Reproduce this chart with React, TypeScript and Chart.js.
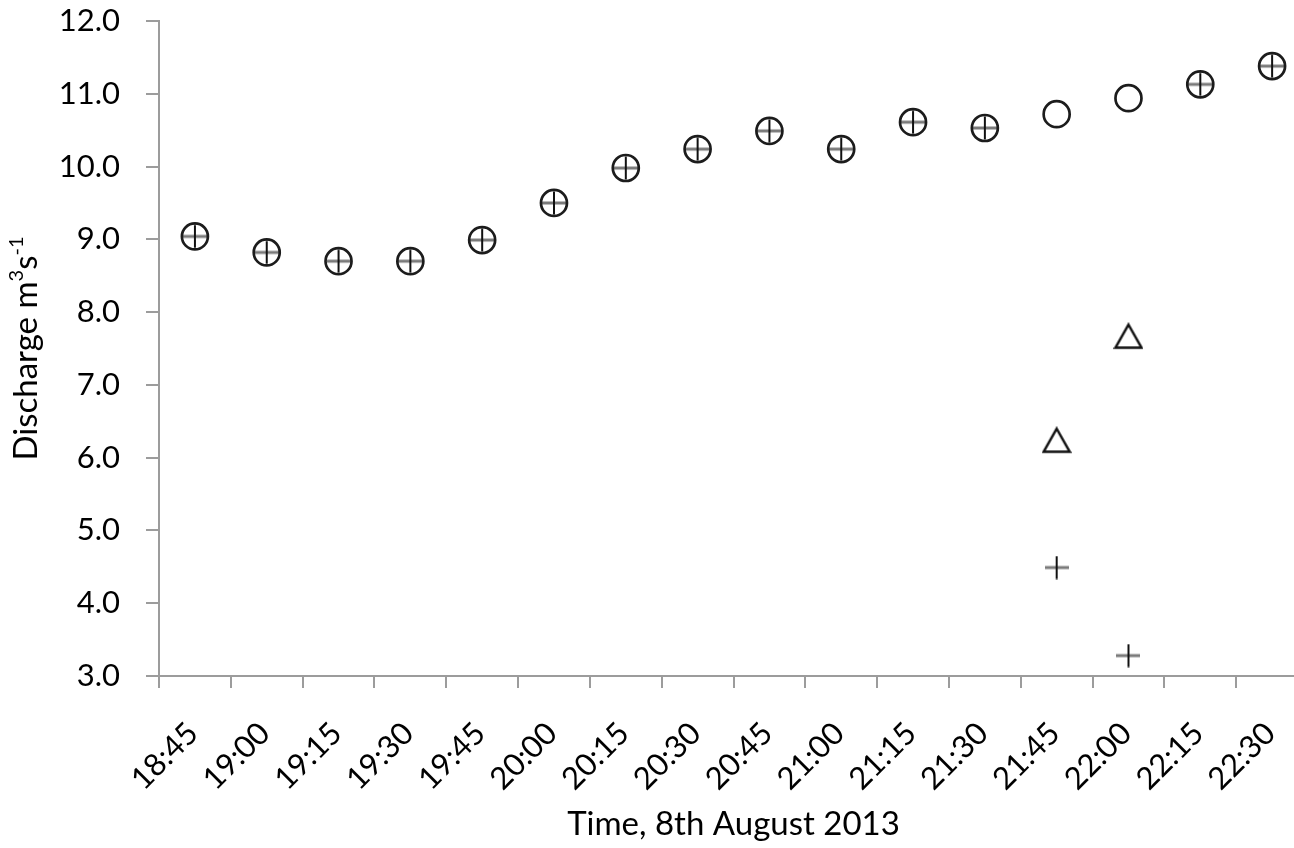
import React, { useEffect, useRef } from 'react';
import { Chart, registerables } from 'chart.js';

Chart.register(...registerables);

// Sampling times (x categories)
const timeLabels = [
  '18:45', '19:00', '19:15', '19:30', '19:45', '20:00', '20:15', '20:30',
  '20:45', '21:00', '21:15', '21:30', '21:45', '22:00', '22:15', '22:30',
];

// Discharge, method 1 (open circles)
const circleValues = [
  9.04, 8.82, 8.7, 8.7, 8.99, 9.5, 9.98, 10.24,
  10.49, 10.24, 10.61, 10.53, 10.72, 10.94, 11.13, 11.38,
];

// Discharge, method 2 (crosses)
const crossValues = [
  9.04, 8.82, 8.7, 8.7, 8.99, 9.5, 9.98, 10.24,
  10.49, 10.24, 10.61, 10.53, 4.49, 3.28, 11.13, 11.38,
];

// Discharge, method 3 (triangles)
const triangleValues: (number | null)[] = [
  null, null, null, null, null, null, null, null,
  null, null, null, null, 6.24, 7.67, null, null,
];

// Y axis range and step
const yTickValues = [3, 4, 5, 6, 7, 8, 9, 10, 11, 12];

const FONT_FAMILY = 'Lato, "Open Sans", sans-serif';
const AXIS_GREY = '#9c9c9c';
const TICK_SIZE = 31;
const TITLE_SIZE = 33;

function makeCrossMarker(): HTMLCanvasElement {
  const c = document.createElement('canvas');
  c.width = 24;
  c.height = 24;
  const ctx = c.getContext('2d')!;
  ctx.fillStyle = '#7a7a7a';
  ctx.fillRect(0, 10.5, 24, 3);
  ctx.fillStyle = '#111';
  ctx.fillRect(11, 0.5, 2, 23);
  return c;
}

function makeTriangleMarker(): HTMLCanvasElement {
  const c = document.createElement('canvas');
  c.width = 30;
  c.height = 28;
  const ctx = c.getContext('2d')!;
  ctx.strokeStyle = '#111';
  ctx.lineWidth = 2.5;
  ctx.lineJoin = 'miter';
  ctx.beginPath();
  ctx.moveTo(15, 2.5);
  ctx.lineTo(28, 25.5);
  ctx.lineTo(2, 25.5);
  ctx.closePath();
  ctx.stroke();
  return c;
}

// Rotated y-axis title with superscript units, centred on the plot height
const yTitlePlugin = {
  id: 'yTitleWithUnits',
  afterDraw(chart: Chart) {
    const ctx = chart.ctx;
    const main = `${TITLE_SIZE}px ${FONT_FAMILY}`;
    const sup = `20px ${FONT_FAMILY}`;
    const parts: [string, boolean][] = [['Discharge m', false], ['3', true], ['s', false], ['-1', true]];
    ctx.save();
    let total = 0;
    for (const [txt, isSup] of parts) {
      ctx.font = isSup ? sup : main;
      total += ctx.measureText(txt).width;
    }
    const { top, bottom } = chart.chartArea;
    const centre = (top + bottom) / 2;
    ctx.translate(37, centre + total / 2);
    ctx.rotate(-Math.PI / 2);
    ctx.fillStyle = '#000';
    ctx.textBaseline = 'alphabetic';
    ctx.textAlign = 'left';
    let x = 0;
    for (const [txt, isSup] of parts) {
      ctx.font = isSup ? sup : main;
      ctx.fillText(txt, x, isSup ? -14 : 0);
      x += ctx.measureText(txt).width;
    }
    ctx.restore();
  },
};

export default function App() {
  const canvasRef = useRef<HTMLCanvasElement | null>(null);

  useEffect(() => {
    const canvas = canvasRef.current;
    if (!canvas) return;
    const crossMarker = makeCrossMarker();
    const triangleMarker = makeTriangleMarker();
    const tickFont = { family: FONT_FAMILY, size: TICK_SIZE };
    const titleFont = { family: FONT_FAMILY, size: TITLE_SIZE };

    const chart = new Chart(canvas, {
      type: 'line',
      data: {
        labels: timeLabels,
        datasets: [
          {
            label: 'Circles',
            data: circleValues,
            showLine: false,
            pointStyle: 'circle',
            pointRadius: 13,
            pointBorderWidth: 2.7,
            pointBorderColor: '#1c1c1c',
            pointBackgroundColor: 'rgba(0,0,0,0)',
          },
          {
            label: 'Crosses',
            data: crossValues,
            showLine: false,
            pointStyle: crossMarker,
            pointRadius: 12,
          },
          {
            label: 'Triangles',
            data: triangleValues,
            showLine: false,
            pointStyle: triangleMarker,
            pointRadius: 14,
          },
        ],
      },
      options: {
        animation: false,
        responsive: false,
        maintainAspectRatio: false,
        layout: { autoPadding: false, padding: { top: 21, right: 2, left: 0, bottom: 0 } },
        plugins: {
          legend: { display: false },
          tooltip: { enabled: false },
        },
        scales: {
          x: {
            type: 'category',
            offset: true,
            grid: {
              offset: true,
              drawOnChartArea: false,
              drawTicks: true,
              tickLength: 12,
              color: AXIS_GREY,
              lineWidth: 2,
            },
            border: { display: true, color: AXIS_GREY, width: 2 },
            ticks: {
              autoSkip: false,
              minRotation: 45,
              maxRotation: 45,
              padding: 27,
              labelOffset: -2,
              color: '#000',
              font: tickFont,
            },
            title: {
              display: true,
              text: 'Time, 8th August 2013',
              color: '#000',
              font: titleFont,
              padding: { top: 0, bottom: 4 },
            },
            afterFit: (scale: any) => {
              scale.height = 172;
              scale.paddingLeft = 0;
              scale.paddingRight = 0;
              scale.paddingTop = 0;
              scale.paddingBottom = 0;
            },
          },
          y: {
            min: yTickValues[0],
            max: yTickValues[yTickValues.length - 1],
            grid: {
              drawOnChartArea: false,
              drawTicks: true,
              tickLength: 13,
              color: AXIS_GREY,
              lineWidth: 2,
            },
            border: { display: true, color: AXIS_GREY, width: 2 },
            ticks: {
              stepSize: 1,
              padding: 26,
              color: '#000',
              font: tickFont,
              callback: (v: any) => Number(v).toFixed(1),
            },
            afterFit: (scale: any) => {
              scale.width = 159;
              scale.paddingLeft = 0;
              scale.paddingRight = 0;
              scale.paddingTop = 0;
              scale.paddingBottom = 0;
            },
          },
        },
      },
      plugins: [yTitlePlugin],
    });

    return () => chart.destroy();
  }, []);

  return (
    <div
      style={{
        position: 'fixed',
        left: 0,
        top: 0,
        width: 1294,
        height: 848,
        overflow: 'hidden',
        background: '#fff',
      }}
    >
      <canvas ref={canvasRef} width={1310} height={848} style={{ display: 'block' }} />
    </div>
  );
}
